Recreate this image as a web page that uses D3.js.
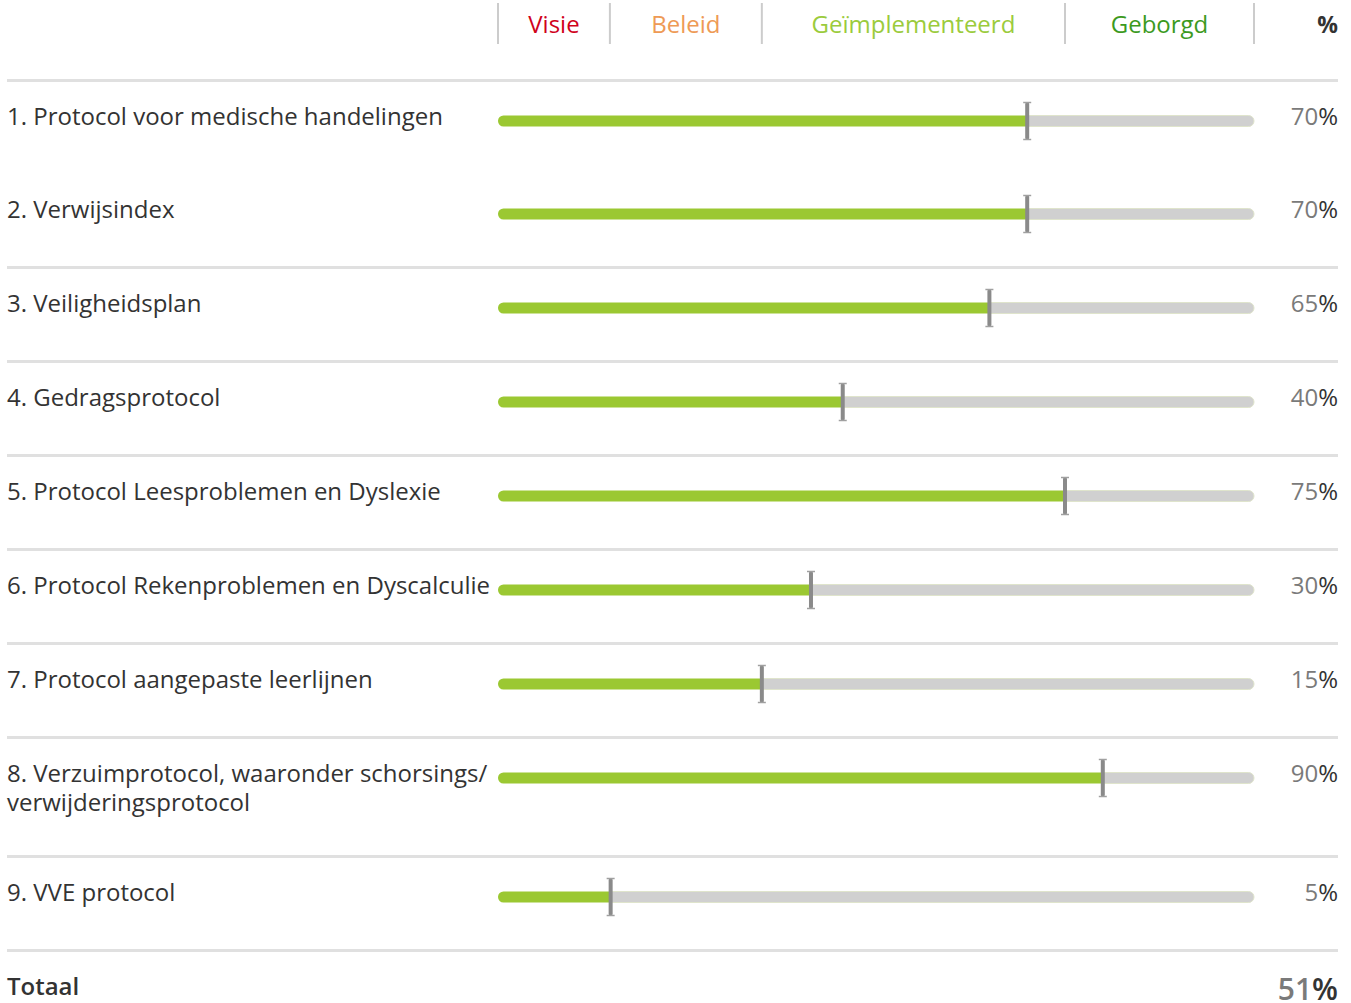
<!DOCTYPE html>
<html>
<head>
<meta charset="utf-8">
<script src="https://cdnjs.cloudflare.com/ajax/libs/d3/7.8.5/d3.min.js"></script>
<style>
  body { margin: 0; background: #fff; }
  svg text { font-family: "Open Sans", sans-serif; }
</style>
</head>
<body>
<div id="chart"></div>
<script>
// onderdelen (labels), percentage and position of the marker on the 0-100 bar
var onderdelen = [
  ["1. Protocol voor medische handelingen"],
  ["2. Verwijsindex"],
  ["3. Veiligheidsplan"],
  ["4. Gedragsprotocol"],
  ["5. Protocol Leesproblemen en Dyslexie"],
  ["6. Protocol Rekenproblemen en Dyscalculie"],
  ["7. Protocol aangepaste leerlijnen"],
  ["8. Verzuimprotocol, waaronder schorsings/", "verwijderingsprotocol"],
  ["9. VVE protocol"]
];
var percentages = [70, 70, 65, 40, 75, 30, 15, 90, 5];
var posities = [70, 70, 65, 45.6, 75, 41.4, 34.9, 80, 14.9];
var groepen = [1, 1, 2, 3, 4, 5, 6, 7, 8];

var fasen = ["Visie", "Beleid", "Geïmplementeerd", "Geborgd"];
var faseGrenzen = [0, 14.8, 34.9, 75, 100];
var faseKleuren = ["#d0021b", "#ee9a55", "#9bcb3c", "#3c9a1e"];

var totaalLabel = "Totaal";
var totaal = 51;

var width = 1351, height = 1003;
var svg = d3.select("#chart").append("svg")
  .attr("width", width)
  .attr("height", height);

var left = 7, right = 1338;
var x = d3.scaleLinear().domain([0, 100]).range([498, 1254]);

// header
var header = svg.append("g");
header.selectAll("line.fase")
  .data(faseGrenzen)
  .enter().append("line")
  .attr("class", "fase")
  .attr("x1", function(d) { return x(d); })
  .attr("x2", function(d) { return x(d); })
  .attr("y1", 3)
  .attr("y2", 44)
  .style("stroke", "#cccccc")
  .style("stroke-width", 2);

header.selectAll("text.fase")
  .data(fasen)
  .enter().append("text")
  .attr("class", "fase")
  .attr("x", function(d, i) { return (x(faseGrenzen[i]) + x(faseGrenzen[i + 1])) / 2; })
  .attr("y", 33)
  .attr("text-anchor", "middle")
  .style("font-size", "24px")
  .style("fill", function(d, i) { return faseKleuren[i]; })
  .text(function(d) { return d; });

header.append("text")
  .attr("x", right)
  .attr("y", 33)
  .attr("text-anchor", "end")
  .style("font-size", "23px")
  .style("font-weight", "bold")
  .style("fill", "#333")
  .text("%");

// rows: 93px each, 25px per extra label line, 1px extra at a group separator
var rowH = 93, extraLine = 25, top0 = 80;
var tops = [];
var t = top0;
onderdelen.forEach(function(d, i) {
  tops.push(t);
  t += rowH + (d.length - 1) * extraLine;
  if (i == onderdelen.length - 1 || groepen[i + 1] != groepen[i]) t += 1;
});
var eind = t;

// separators (only between groups)
var seps = [top0];
tops.forEach(function(d, i) {
  if (i > 0 && groepen[i] != groepen[i - 1]) seps.push(d);
});
seps.push(eind);

svg.selectAll("line.sep")
  .data(seps)
  .enter().append("line")
  .attr("class", "sep")
  .attr("x1", left)
  .attr("x2", right)
  .attr("y1", function(d) { return d + 0.5; })
  .attr("y2", function(d) { return d + 0.5; })
  .style("stroke", "#e0e0e0")
  .style("stroke-width", 3);

var rows = svg.selectAll("g.row")
  .data(onderdelen)
  .enter().append("g")
  .attr("class", "row")
  .attr("transform", function(d, i) { return "translate(0," + tops[i] + ")"; });

rows.each(function(d, i) {
  var g = d3.select(this);

  g.selectAll("text.label")
    .data(d)
    .enter().append("text")
    .attr("class", "label")
    .attr("x", left)
    .attr("y", function(l, j) { return 45 + j * 29; })
    .style("font-size", "24px")
    .style("fill", "#333")
    .text(function(l) { return l; });

  var bh = 11, by = 41 - bh / 2, r = bh / 2;
  var mx = x(posities[i]);

  // grey remainder, rounded right end
  g.append("path")
    .attr("d", "M" + mx + "," + by + "H" + (x(100) - r) +
      "A" + r + "," + r + " 0 0 1 " + (x(100) - r) + "," + (by + bh) +
      "H" + mx + "Z")
    .style("fill", "#d0d0d0")
    .style("stroke", "#dfe4cc")
    .style("stroke-width", 1);

  // green part, rounded left end
  g.append("path")
    .attr("d", "M" + mx + "," + by + "H" + (x(0) + r) +
      "A" + r + "," + r + " 0 0 0 " + (x(0) + r) + "," + (by + bh) +
      "H" + mx + "Z")
    .style("fill", "#9bc832");

  // marker
  g.append("line")
    .attr("x1", mx).attr("x2", mx)
    .attr("y1", 24).attr("y2", 58)
    .style("stroke", "#8a8a8a")
    .style("stroke-width", 4)
    .style("stroke-linecap", "round");
  [22.5, 59.5].forEach(function(yy) {
    g.append("line")
      .attr("x1", mx - 4).attr("x2", mx + 4)
      .attr("y1", yy).attr("y2", yy)
      .style("stroke", "#a0a0a0")
      .style("stroke-width", 1.5);
  });

  var pt = g.append("text")
    .attr("x", right)
    .attr("y", 45)
    .attr("text-anchor", "end")
    .style("font-size", "24px");
  pt.append("tspan").style("fill", "#7a7a7a").text(percentages[i]);
  pt.append("tspan").style("fill", "#333").text("%");
});

// totaal
svg.append("text")
  .attr("x", left)
  .attr("y", 995)
  .style("font-size", "24px")
  .style("font-weight", 600)
  .style("fill", "#333")
  .text(totaalLabel);

var tt = svg.append("text")
  .attr("x", right)
  .attr("y", 1000)
  .attr("text-anchor", "end")
  .style("font-size", "30px")
  .style("font-weight", 600);
tt.append("tspan").style("fill", "#7a7a7a").text(totaal);
tt.append("tspan").style("fill", "#333").text("%");
</script>
</body>
</html>
